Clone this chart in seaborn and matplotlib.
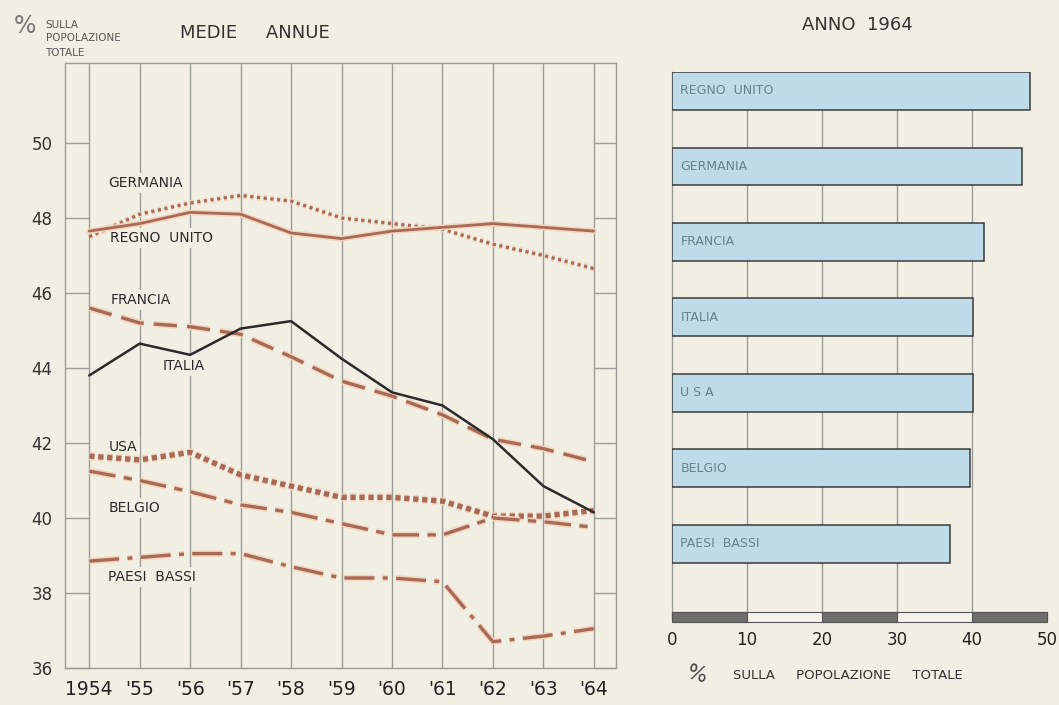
import pandas as pd
import matplotlib.pyplot as plt
import matplotlib.patheffects as pe
import seaborn as sns
import numpy as np

# Data
years = [1954, 1955, 1956, 1957, 1958, 1959, 1960, 1961, 1962, 1963, 1964]
year_labels = ['1954', "'55", "'56", "'57", "'58", "'59", "'60", "'61", "'62", "'63", "'64"]

germania = [47.5, 48.1, 48.4, 48.6, 48.45, 48.0, 47.85, 47.7, 47.3, 47.0, 46.65]
regno_unito = [47.65, 47.85, 48.15, 48.1, 47.6, 47.45, 47.65, 47.75, 47.85, 47.75, 47.65]
francia = [45.6, 45.2, 45.1, 44.9, 44.3, 43.65, 43.25, 42.75, 42.1, 41.85, 41.5]
italia = [43.8, 44.65, 44.35, 45.05, 45.25, 44.25, 43.35, 43.0, 42.1, 40.85, 40.15]
usa = [41.65, 41.55, 41.75, 41.15, 40.85, 40.55, 40.55, 40.45, 40.05, 40.05, 40.2]
belgio = [41.25, 41.0, 40.7, 40.35, 40.15, 39.85, 39.55, 39.55, 40.0, 39.9, 39.75]
paesi_bassi = [38.85, 38.95, 39.05, 39.05, 38.7, 38.4, 38.4, 38.3, 36.7, 36.85, 37.05]

y_ticks = [36, 38, 40, 42, 44, 46, 48, 50]

bar_labels = ['REGNO  UNITO', 'GERMANIA', 'FRANCIA', 'ITALIA', 'U S A', 'BELGIO', 'PAESI  BASSI']
bar_values = [47.7, 46.7, 41.6, 40.1, 40.15, 39.7, 37.1]
bar_ticks = [0, 10, 20, 30, 40, 50]

# colours
bg = '#f1eee3'
brown = '#a86a57'
halo = '#f3d4bd'
grid_col = '#9c9c98'
bar_fill = '#bfdae8'
bar_text = '#67838f'

sns.set_style('white')
plt.rcParams['font.family'] = ['DejaVu Sans']

fig = plt.figure(figsize=(10.59, 7.05), dpi=100)
fig.set_facecolor(bg)

# ---------------- left: medie annue ----------------
ax = fig.add_axes([0.0614, 0.0525, 0.5203, 0.858])
ax.set_facecolor(bg)

halo_fx = lambda w: [pe.Stroke(linewidth=w, foreground=halo), pe.Normal()]

series = [
    ('GERMANIA', germania, brown, (0, (1, 1.1)), 2.3),
    ('REGNO UNITO', regno_unito, brown, '-', 2.0),
    ('FRANCIA', francia, brown, (0, (7, 3)), 2.4),
    ('USA', usa, brown, (0, (1, 0.7)), 3.8),
    ('BELGIO', belgio, brown, (0, (8, 2.5, 2.5, 2.5)), 2.4),
    ('PAESI BASSI', paesi_bassi, brown, (0, (9, 2.5, 1.5, 2.5)), 2.4),
]
for name, vals, col, ls, lw in series:
    sns.lineplot(x=years, y=vals, color=col, ax=ax, linewidth=lw, linestyle=ls, zorder=4,
                 path_effects=halo_fx(lw + 2.2))

sns.lineplot(x=years, y=italia, color='#2b2b2b', ax=ax, linewidth=1.8, zorder=5)

ax.set_xlim(1953.52, 1964.44)
ax.set_ylim(36, 52.13)
ax.set_xticks(years)
ax.set_xticklabels(year_labels, fontsize=13.5, color='#222')
ax.set_yticks(y_ticks)
ax.set_yticklabels([str(v) for v in y_ticks], fontsize=12, color='#333')
ax.grid(axis='x', color=grid_col, linewidth=1, zorder=1)
ax.grid(axis='y', visible=False)
ax.set_axisbelow(True)
ax.tick_params(axis='x', length=0, pad=9)
ax.tick_params(axis='y', direction='in', length=17, width=1, color=grid_col, pad=9,
               right=True, left=True)
for t in ax.yaxis.get_major_ticks():
    t.tick2line.set_markersize(16)
for s in ax.spines.values():
    s.set_color(grid_col)
    s.set_linewidth(1)
ax.set_xlabel('')
ax.set_ylabel('')

label_box = dict(facecolor=bg, edgecolor='none', pad=2)
line_labels = [
    ('GERMANIA', 1954.38, 48.93),
    ('REGNO  UNITO', 1954.42, 47.47),
    ('FRANCIA', 1954.42, 45.81),
    ('ITALIA', 1955.45, 44.05),
    ('USA', 1954.38, 41.9),
    ('BELGIO', 1954.38, 40.27),
    ('PAESI  BASSI', 1954.38, 38.43),
]
for txt, lx, ly in line_labels:
    ax.text(lx, ly, txt, fontsize=10, color='#2a2a2a', ha='left', va='center',
            bbox=label_box, zorder=3)

fig.text(0.024, 0.963, '%', fontsize=17, color='#777', ha='center', va='center')
fig.text(0.043, 0.965, 'SULLA', fontsize=7.5, color='#555', ha='left', va='center')
fig.text(0.043, 0.946, 'POPOLAZIONE', fontsize=7.5, color='#555', ha='left', va='center')
fig.text(0.043, 0.925, 'TOTALE', fontsize=7.5, color='#555', ha='left', va='center')
fig.text(0.170, 0.953, 'MEDIE     ANNUE', fontsize=13, color='#333', ha='left', va='center')

# ---------------- right: anno 1964 ----------------
ax2 = fig.add_axes([0.6346, 0.1248, 0.3541, 0.773])
ax2.set_facecolor(bg)
sns.barplot(x=bar_values, y=bar_labels, orient='h', color=bar_fill, width=0.5,
            edgecolor='#3a3a3a', linewidth=1.1, saturation=1, ax=ax2, zorder=3)
ax2.set_xlim(0, 50)
ax2.set_ylim(6.97, -0.25)
ax2.set_xticks(bar_ticks)
ax2.set_xticklabels([str(v) for v in bar_ticks], fontsize=12, color='#222')
ax2.tick_params(axis='x', length=0, pad=10)
ax2.set_yticks([])
ax2.grid(False)
# grid lines only at the inner ticks (10..40), behind the bars
for t in bar_ticks[1:-1]:
    ax2.axvline(t, color=grid_col, linewidth=1, zorder=1)
for side in ['top', 'right', 'bottom']:
    ax2.spines[side].set_visible(False)
ax2.spines['left'].set_color(grid_col)
ax2.spines['left'].set_linewidth(1)
ax2.set_xlabel('')
ax2.set_ylabel('')

for i, txt in enumerate(bar_labels):
    ax2.text(1.1, i, txt, fontsize=9, color=bar_text, ha='left', va='center', zorder=4)

# striped scale bar along the bottom
dark_segs = [(bar_ticks[i], bar_ticks[i + 1] - bar_ticks[i]) for i in range(0, len(bar_ticks) - 1, 2)]
ax2.broken_barh([(0, 50)], (-0.009, 0.018), transform=ax2.get_xaxis_transform(),
                facecolor='#f4f2ea', edgecolor='#555', linewidth=0.8, clip_on=False, zorder=5)
ax2.broken_barh(dark_segs, (-0.009, 0.018), transform=ax2.get_xaxis_transform(),
                facecolor='#6e6e6c', edgecolor='#555', linewidth=0.8, clip_on=False, zorder=6)

fig.text(0.810, 0.965, 'ANNO  1964', fontsize=13, color='#333', ha='center', va='center')
fig.text(0.658, 0.043, '%', fontsize=15, color='#444', ha='center', va='center', rotation=-15)
fig.text(0.692, 0.042, 'SULLA     POPOLAZIONE     TOTALE', fontsize=9.5, color='#333',
         ha='left', va='center')

plt.savefig('out.png', dpi=100, facecolor=bg)
